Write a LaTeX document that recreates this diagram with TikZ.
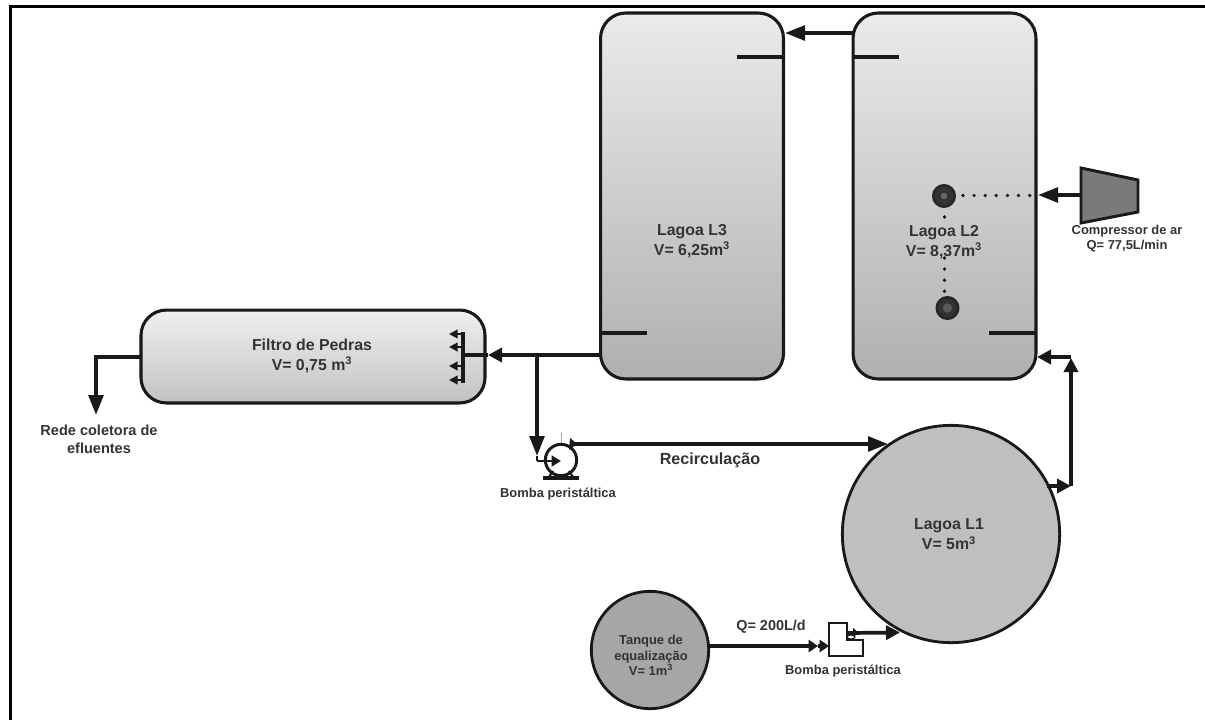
\documentclass[tikz,border=0pt]{standalone}
\usepackage{fontspec}
\setmainfont{Liberation Sans}
\usetikzlibrary{arrows.meta}
\definecolor{ink}{gray}{0.1}
\definecolor{txt}{gray}{0.2}
\tikzset{
  x=0.75pt,y=-0.75pt,
  lagoon/.style={draw=ink,line width=2.3pt,rounded corners=19pt,top color=black!8,bottom color=black!31,minimum width=137.2pt,minimum height=274.5pt,inner sep=0pt},
  filterbox/.style={draw=ink,line width=2.3pt,rounded corners=19pt,top color=black!6,bottom color=black!24,minimum width=258pt,minimum height=69.7pt,inner sep=0pt},
  roundtank/.style={circle,draw=ink,line width=2.1pt,inner sep=0pt},
  label/.style={font=\bfseries\fontsize{11.9pt}{15pt}\selectfont,text=txt,align=center,inner sep=0pt},
  smalllabel/.style={font=\bfseries\fontsize{9.7pt}{11.3pt}\selectfont,text=txt,align=center,inner sep=0pt},
  pipe/.style={draw=ink,line width=2.8pt},
  flow/.style={pipe,-{Triangle[length=10.5pt,width=10.5pt]}},
  bigflow/.style={pipe,-{Triangle[length=15pt,width=11pt]}},
  miniflow/.style={draw=ink,line width=1.6pt,-{Triangle[length=6.5pt,width=6.5pt]}},
  weir/.style={draw=ink,line width=2.3pt},
  airdot/.style={draw=ink,line width=2.8pt,line cap=round,dash pattern=on 0pt off 8.33pt},
  diffuser/.style={circle,draw=black!85,fill=black!80,line width=2pt,minimum size=16pt,inner sep=0pt}
}
\begin{document}
\begin{tikzpicture}
\useasboundingbox (0,0) rectangle (1205,720);
\fill[white] (0,0) rectangle (1205,720);
% frame
\coordinate (frameA) at (10.5,720);
\coordinate (frameB) at (10.5,6.5);
\coordinate (frameC) at (1205,6.5);
\draw[black,line width=2.4pt] (frameA) -- (frameB) -- (frameC);
% main vessels
\node[lagoon] (L3) at (692,196) {};
\node[lagoon] (L2) at (944.5,196) {};
\node[filterbox] (F) at (313,356.5) {};
\node[roundtank,fill=black!25,minimum size=163pt] (L1) at (951,534) {};
\node[roundtank,fill=black!35,minimum size=88pt] (T) at (650,650) {};
% vessel labels
\node[label] (tL3) at (692,241) {Lagoa L3\\V= 6,25m\textsuperscript{3}};
\node[label] (tL2) at (944,242) {Lagoa L2\\V= 8,37m\textsuperscript{3}};
\node[label] (tF) at (312,356) {Filtro de Pedras\\V= 0,75 m\textsuperscript{3}};
\node[label] (tL1) at (949,534.5) {Lagoa L1\\V= 5m\textsuperscript{3}};
\node[smalllabel,font=\bfseries\fontsize{9.7pt}{11.6pt}\selectfont] (tT) at (651,655.5) {Tanque de\\equalização\\V= 1m\textsuperscript{3}};
% weirs
\coordinate (w3a) at (737,57); \coordinate (w3b) at (783,57);
\coordinate (w2a) at (853,57); \coordinate (w2b) at (899,57);
\coordinate (w3c) at (601,333); \coordinate (w3d) at (647,333);
\coordinate (w2c) at (989,333); \coordinate (w2d) at (1036,333);
\draw[weir] (w3a) -- (w3b);
\draw[weir] (w2a) -- (w2b);
\draw[weir] (w3c) -- (w3d);
\draw[weir] (w2c) -- (w2d);
% L2 to L3
\coordinate (o2) at (853,33); \coordinate (i3) at (785,33);
\draw[bigflow] (o2) -- (i3);
% L3 to filter
\coordinate (o3) at (601,355); \coordinate (iF) at (488,355); \coordinate (dF) at (463,355);
\coordinate (tee) at (537,355);
\draw[pipe] (iF) -- (dF);
\draw[flow] (o3) -- (iF);
% filter distributor
\coordinate (d0) at (463,332); \coordinate (d5) at (463,383);
\draw[pipe] (d0) -- (d5);
\coordinate (a1) at (463,334); \coordinate (b1) at (449,334);
\coordinate (a2) at (463,347); \coordinate (b2) at (449,347);
\coordinate (a3) at (463,366); \coordinate (b3) at (449,366);
\coordinate (a4) at (463,380); \coordinate (b4) at (449,380);
\draw[miniflow] (a1) -- (b1);
\draw[miniflow] (a2) -- (b2);
\draw[miniflow] (a3) -- (b3);
\draw[miniflow] (a4) -- (b4);
% filter outlet
\coordinate (oF) at (141,357); \coordinate (elbF) at (96,357); \coordinate (rede) at (96,415);
\draw[bigflow] (oF) -- (elbF) -- (rede);
\node[smalllabel,font=\bfseries\fontsize{10.9pt}{13.5pt}\selectfont] (tRede) at (99,439) {Rede coletora de\\efluentes};
% recirculation pump
\node[circle,draw=ink,line width=2.2pt,fill=white,minimum size=23.5pt,inner sep=0pt] (P1) at (561,460) {};
\coordinate (pb1) at (543,478); \coordinate (pb2) at (579,478);
\draw[draw=ink,line width=2.6pt] (pb1) -- (pb2);
\coordinate (pl1) at (549,477); \coordinate (pl2) at (553,471);
\coordinate (pr1) at (573,477); \coordinate (pr2) at (569,471);
\draw[draw=ink,line width=1.6pt] (pl1) -- (pl2);
\draw[draw=ink,line width=1.6pt] (pr1) -- (pr2);
\coordinate (tick1) at (561,433); \coordinate (tick2) at (561,443);
\draw[black!35,line width=.6pt] (tick1) -- (tick2);
\coordinate (branch) at (537,456);
\draw[bigflow] (tee) -- (branch);
\coordinate (pin) at (537,461); \coordinate (pin2) at (561,461);
\draw[draw=ink,line width=2.2pt] (branch) -- (pin);
\draw[draw=ink,line width=2.2pt,-{Triangle[length=7pt,width=8pt]}] (pin) -- (pin2);
\coordinate (pout) at (573,444);
\coordinate (recTip) at (888,444);
\draw[bigflow] (pout) -- (recTip);
\fill[ink] (570,438) -- (577,444) -- (569,450) -- cycle;
\node[label,font=\bfseries\fontsize{12.1pt}{14pt}\selectfont] (tRec) at (710,460) {Recirculação};
\node[smalllabel] (tP1) at (558,494) {Bomba peristáltica};
% L1 to L2
\coordinate (oL1) at (1047,486); \coordinate (elb1) at (1071,486);
\coordinate (elb2) at (1071,358); \coordinate (iL2) at (1037,357);
\draw[flow] (oL1) -- (elb1);
\draw[flow] (elb1) -- (elb2);
\draw[flow] (elb2 |- iL2) -- (iL2);
% compressor
\coordinate (c1) at (1081,168); \coordinate (c2) at (1138,180);
\coordinate (c3) at (1138,212); \coordinate (c4) at (1081,223);
\draw[draw=ink,line width=2.2pt,fill=black!52] (c1) -- (c2) -- (c3) -- (c4) -- cycle;
\coordinate (cout) at (1081,195); \coordinate (ci2) at (1038,195);
\draw[bigflow] (cout) -- (ci2);
\node[smalllabel] (tC) at (1127,238.5) {Compressor de ar\\Q= 77,5L/min};
% diffusers
\node[diffuser] (D1) at (944,196) {};
\node[diffuser] (D2) at (947.5,308) {};
\node[circle,fill=black!60,minimum size=5pt,inner sep=0pt] (D1c) at (944,196) {};
\node[circle,fill=black!65,minimum size=7pt,inner sep=0pt] (D2c) at (947.5,308) {};
\coordinate (dd1) at (963,195.5); \coordinate (dd2) at (1031,195.5);
\draw[airdot] (dd1) -- (dd2);
\coordinate (v1) at (944.5,217); \coordinate (v2) at (944.5,217.5);
\draw[airdot] (v1) -- (v2);
\coordinate (v3) at (944.5,258); \coordinate (v4) at (944.5,292);
\draw[airdot] (v3) -- (v4);
% feed line
\coordinate (oT) at (709,646); \coordinate (i1) at (829,646);
\coordinate (h1) at (818,646);
\draw[draw=ink,line width=2.8pt,-{Triangle[length=7pt,width=9pt]}] (oT) -- (h1);
\draw[draw=ink,line width=2.8pt,-{Triangle[length=7pt,width=9pt]}] (h1) -- (i1);
\node[smalllabel,font=\bfseries\fontsize{10.8pt}{12pt}\selectfont] (tQ) at (771,627) {Q= 200L/d};
% feed pump
\coordinate (q1) at (829,623); \coordinate (q2) at (847,623);
\coordinate (q3) at (847,640); \coordinate (q4) at (863,640);
\coordinate (q5) at (863,656); \coordinate (q6) at (829,656);
\draw[draw=ink,line width=2pt,fill=white] (q1) -- (q2) -- (q3) -- (q4) -- (q5) -- (q6) -- cycle;
\coordinate (po) at (847,633); \coordinate (i1b) at (900,632.5);
\draw[flow] (po) -- (i1b);
\fill[ink] (853,628) -- (859,633) -- (853,637) -- cycle;
\draw[draw=ink,line width=.8pt,fill=white] (851,637) ellipse (4 and 2);
\node[smalllabel] (tP2) at (843,671.5) {Bomba peristáltica};
\end{tikzpicture}
\end{document}
